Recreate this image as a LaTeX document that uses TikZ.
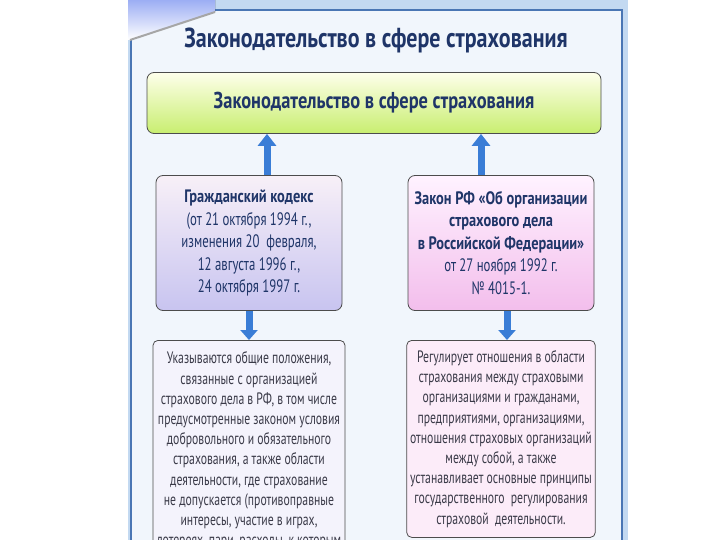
\documentclass[tikz,border=0pt]{standalone}
\usepackage{fontspec}
\setmainfont{PT Sans}[FakeStretch=0.8]
\newfontfamily\narrowfont{PT Sans}[FakeStretch=0.71]
\usetikzlibrary{arrows.meta, positioning}

\definecolor{framebg}{HTML}{C3D9F1}
\definecolor{panelbg}{HTML}{F1F6FC}
\definecolor{panelline}{HTML}{4A76B4}
\definecolor{titleblue}{HTML}{1F3568}
\definecolor{arrowblue}{HTML}{3A7DD6}
\definecolor{notetext}{HTML}{3A3A48}

\begin{document}
\begin{tikzpicture}[x=1pt, y=-1pt,
    topbox/.style={draw=gray!60!black, thick, rounded corners=7pt,
                   top color=green!5!yellow!8!white, bottom color={rgb,255:red,200;green,238;blue,112},
                   minimum width=454pt, minimum height=61pt,
                   font=\fontsize{23}{25}\selectfont\bfseries, text=titleblue},
    lawbox/.style={draw=gray!60!black, thick, rounded corners=7pt,
                   minimum width=186pt, minimum height=135pt, align=center,
                   font=\fontsize{18}{22.5}\selectfont, text=titleblue},
    notebox/.style={draw=gray!60!black, thick, rounded corners=5pt,
                    align=center, inner ysep=8pt,
                    font=\narrowfont\fontsize{16.5}{20.2}\selectfont, text=notetext},
    uparrow/.style={line width=7pt, draw=arrowblue, -{Triangle[length=12pt, width=18pt]}},
    downarrow/.style={line width=7pt, draw=arrowblue, -{Triangle[length=10pt, width=17pt]}}
]
    \useasboundingbox (0,0) rectangle (720,540);
    \clip (0,0) rectangle (720,540);

    % --- Slide frame ---
    \fill[white] (0,0) rectangle (720,540);
    \fill[framebg] (128,0) rectangle (628,540);
    \fill[panelbg] (131,10) rectangle (622,545);
    \draw[panelline, line width=1.5pt] (131,545) -- (131,10) -- (622,10) -- (622,545);
    \fill[top color=framebg!80!blue, bottom color=white] (128,0) -- (215,0) -- (215,12) -- (130,40) -- (128,40) -- cycle;
    \draw[gray!70, line width=2pt] (130,40) -- (215,12);

    % --- Title ---
    \node[font=\fontsize{27.5}{30}\selectfont\bfseries, text=titleblue] (title) at (376,40)
        {Законодательство в сфере страхования};

    % --- Boxes ---
    \node[topbox] (top) at (374,103) {Законодательство в сфере страхования};

    \node[lawbox, top color=violet!6!white, bottom color={rgb,255:red,200;green,196;blue,240}] (civil) at (249,243)
        {\textbf{Гражданский кодекс}\\\narrowfont(от 21 октября 1994 г.,\\\narrowfont изменения 20~~февраля,\\\narrowfont 12 августа 1996 г.,\\\narrowfont 24 октября 1997 г.};
    \node[lawbox, top color=magenta!5!white, bottom color={rgb,255:red,243;green,190;blue,236}] (law) at (501,243)
        {\textbf{Закон РФ «Об организации}\\\textbf{страхового дела}\\\textbf{в Российской Федерации»}\\\narrowfont от 27 ноября 1992 г.\\\narrowfont № 4015-1.};

    \node[notebox, fill={rgb,255:red,244;green,243;blue,252}, minimum width=192pt, minimum height=220pt, anchor=north] (civilnote) at (249,340)
        {Указываются общие положения,\\связанные с организацией\\страхового дела в РФ, в том числе\\предусмотренные законом условия\\добровольного и обязательного\\страхования, а также области\\деятельности, где страхование\\не допускается (противоправные\\интересы, участие в играх,\\лотереях, пари, расходы, к которым};
    \node[notebox, fill={rgb,255:red,252;green,236;blue,249}, minimum width=186pt, minimum height=197pt, anchor=north] (lawnote) at (501,340)
        {Регулирует отношения в области\\страхования между страховыми\\организациями и гражданами,\\предприятиями, организациями,\\отношения страховых организаций\\между собой, а также\\устанавливает основные принципы\\государственного~~регулирования\\страховой~~деятельности.};

    % --- Arrows ---
    \draw[uparrow] ([xshift=18pt]civil.north) -- ([xshift=18pt]civil.north |- top.south);
    \draw[uparrow] ([xshift=-20pt]law.north) -- ([xshift=-20pt]law.north |- top.south);
    \draw[downarrow] (civil.south) -- (civil.south |- civilnote.north);
    \draw[downarrow] ([xshift=6pt]law.south) -- ([xshift=6pt]law.south |- lawnote.north);
\end{tikzpicture}
\end{document}
